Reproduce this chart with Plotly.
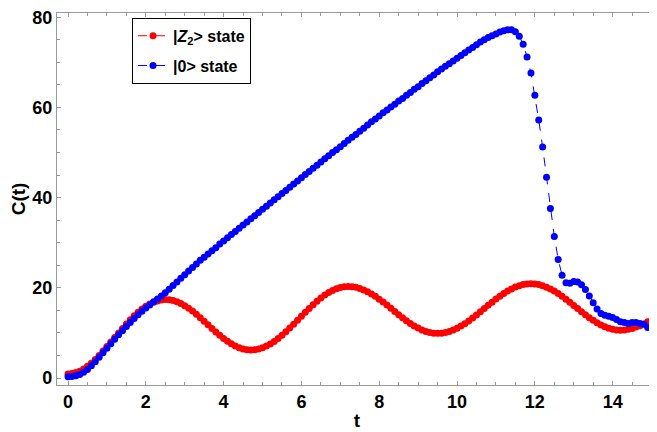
import plotly.graph_objects as go

# sampling grid of the simulation (t = 0.0 ... 14.9, step 0.1)
t = [round(i * 0.1, 1) for i in range(150)]

z2_state = [
    0.9, 1.0, 1.2, 1.5, 2.0, 2.6, 3.3, 4.1, 5.0, 6.0,
    7.0, 8.0, 9.0, 10.0, 11.0, 12.0, 12.9, 13.8, 14.6, 15.3,
    15.9, 16.4, 16.8, 17.1, 17.3, 17.4,
    17.34, 17.17, 16.89, 16.51, 16.03, 15.47, 14.83, 14.13, 13.38, 12.60,
    11.8, 11.00, 10.22, 9.47, 8.77, 8.13, 7.57, 7.09, 6.71, 6.43, 6.26, 6.2,
    6.26, 6.42, 6.69, 7.07, 7.55, 8.11, 8.76, 9.47, 10.25, 11.07,
    11.93, 12.81, 13.69, 14.57, 15.43, 16.25, 17.03, 17.74, 18.39, 18.95,
    19.43, 19.81, 20.08, 20.25, 20.3,
    20.25, 20.11, 19.87, 19.54, 19.13, 18.65, 18.10, 17.49, 16.84, 16.16,
    15.45, 14.75, 14.04, 13.36, 12.71, 12.10, 11.55, 11.07, 10.66, 10.33,
    10.09, 9.95, 9.9,
    9.95, 10.09, 10.32, 10.64, 11.04, 11.51, 12.05, 12.65, 13.30, 13.98,
    14.68, 15.4, 16.12, 16.82, 17.50, 18.15, 18.75, 19.29, 19.76, 20.16,
    20.48, 20.71, 20.85, 20.9,
    20.85, 20.71, 20.47, 20.15, 19.75, 19.27, 18.72, 18.12, 17.48, 16.80,
    16.10, 15.40, 14.70, 14.02, 13.38, 12.78, 12.23, 11.75, 11.35, 11.03,
    10.79, 10.65, 10.6,
    10.65, 10.8, 11.0, 11.3, 11.6, 12.0, 12.5,
]

zero_state = [
    0.3, 0.35, 0.5, 0.8, 1.3, 1.9, 2.7, 3.6, 4.6, 5.6,
    6.6, 7.6, 8.6, 9.6, 10.5, 11.4, 12.3, 13.2, 14.0, 14.8,
    15.5, 16.2, 16.9, 17.5, 18.2, 18.9, 19.7, 20.5, 21.3, 22.1,
    22.9, 23.7, 24.5, 25.3, 26.1, 26.8, 27.5, 28.2, 28.9, 29.7,
    30.4, 31.1, 31.8, 32.5, 33.2, 33.9, 34.6, 35.3, 36.0, 36.7,
    37.4, 38.1, 38.8, 39.5, 40.2, 40.9, 41.6, 42.3, 43.0, 43.7,
    44.4, 45.1, 45.8, 46.5, 47.2, 47.9, 48.6, 49.3, 50.0, 50.6,
    51.3, 52.0, 52.7, 53.4, 54.0, 54.7, 55.4, 56.1, 56.8, 57.4,
    58.1, 58.8, 59.4, 60.1, 60.7, 61.4, 62.0, 62.7, 63.3, 64.0,
    64.6, 65.3, 65.9, 66.6, 67.2, 67.9, 68.5, 69.1, 69.7, 70.3,
    70.9, 71.5, 72.1, 72.7, 73.3, 73.9, 74.5, 75.0, 75.5, 75.9,
    76.3, 76.7, 77.0, 77.2, 77.2, 76.8, 75.8, 74.0, 71.2, 67.6,
    62.7, 57.2, 51.2, 44.5, 37.6, 31.4, 26.3, 22.8, 21.1, 21.0,
    21.4, 21.3, 20.7, 19.6, 18.2, 16.7, 15.3, 14.3, 13.9, 13.7,
    13.4, 13.0, 12.5, 12.3, 12.1, 12.3, 12.3, 12.1, 11.9, 11.2,
]

x_ticks = [0, 2, 4, 6, 8, 10, 12, 14]
y_ticks = [0, 20, 40, 60, 80]

FONT = "Liberation Sans, Arial, sans-serif"

fig = go.Figure()
fig.add_trace(go.Scatter(
    x=t, y=z2_state, mode="lines+markers",
    name="<b>|<i>Z</i><sub>2</sub>&gt; state</b>", legendgroup="a",
    line=dict(color="#ff0000", width=1, dash="dash"),
    marker=dict(color="#ff0000", size=7),
))
fig.add_trace(go.Scatter(
    x=t, y=zero_state, mode="lines+markers",
    name="<b>|0&gt; state</b>", legendgroup="b",
    line=dict(color="#0000ff", width=1, dash="dash"),
    marker=dict(color="#0000ff", size=7),
))

axis_common = dict(
    showgrid=False, zeroline=False, showline=True, automargin=False,
    linecolor="#9a9a9a", linewidth=1.2,
    ticks="inside", tickcolor="#9a9a9a", ticklen=4, tickwidth=1,
    tickfont=dict(family=FONT, size=18, color="black", weight="bold"),
    ticklabeloverflow="allow",
)

fig.update_xaxes(
    **axis_common,
    range=[-0.283, 15.14], tickvals=x_ticks, mirror="allticks",
    minor=dict(dtick=0.5, tick0=0, ticks="inside", ticklen=2.5, tickcolor="#9a9a9a"),
    title=dict(text="<b>t</b>", font=dict(family=FONT, size=19, color="black"), standoff=2),
)
fig.update_yaxes(
    **axis_common,
    range=[-1.55, 80.93], tickvals=y_ticks, mirror=False,
    minor=dict(dtick=5, tick0=0, ticks="inside", ticklen=2.5, tickcolor="#9a9a9a"),
    title=dict(text="<b>C(t)</b>", font=dict(family=FONT, size=19, color="black"), standoff=3),
)

# the page body adds an 8px offset, so margins are shifted to compensate
fig.update_layout(
    width=657, height=432,
    margin=dict(l=49, r=8, t=5, b=55),
    paper_bgcolor="white", plot_bgcolor="white",
    showlegend=True,
    legend=dict(
        x=0.125, y=0.987, xanchor="left", yanchor="top",
        bordercolor="black", borderwidth=1, bgcolor="white",
        font=dict(family=FONT, size=16, color="black"),
        tracegroupgap=6, itemwidth=30,
    ),
)

fig.write_html("out.html")
